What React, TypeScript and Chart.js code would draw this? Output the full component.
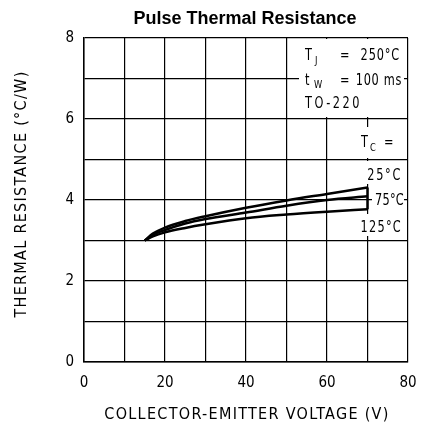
import React, { useEffect, useRef } from "react";
import { Chart, registerables } from "chart.js";

Chart.register(...registerables);

const voltage = [15, 17, 20, 25, 30, 40, 50, 60, 70];
const r25 = [3.0, 3.17, 3.32, 3.48, 3.6, 3.81, 3.99, 4.15, 4.31];
const r75 = [3.0, 3.14, 3.26, 3.42, 3.53, 3.69, 3.86, 4.0, 4.09];
const r125 = [3.0, 3.1, 3.2, 3.31, 3.4, 3.55, 3.64, 3.71, 3.77];
const xTicks = [0, 20, 40, 60, 80];
const yTicks = [0, 2, 4, 6, 8];

const FONT = '"Liberation Sans Narrow", "DejaVu Sans Condensed", "DejaVu Sans", sans-serif';

function txt(ctx: any, s: string, x: number, y: number, size: number, align: string, ls = 1, sx = 0.84) {
  ctx.save();
  ctx.font = `${size}px ${FONT}`;
  ctx.textAlign = align;
  ctx.textBaseline = "alphabetic";
  ctx.letterSpacing = `${ls}px`;
  ctx.translate(x, y);
  ctx.scale(sx, 1);
  ctx.fillText(s, 0, 0);
  ctx.restore();
}

const annotationPlugin = {
  id: "annot",
  beforeDatasetsDraw(chart: any) {
    const ctx = chart.ctx;
    ctx.save();
    ctx.fillStyle = "#fff";
    ctx.fillRect(299, 39, 105, 78);
    ctx.fillRect(357, 127, 46, 31);
    ctx.fillRect(362, 161, 41, 23);
    ctx.fillRect(372, 190, 32, 18);
    ctx.fillRect(360, 214, 43, 22);
    ctx.fillStyle = "#000";
    txt(ctx, "T", 305, 60, 15, "left", 0);
    txt(ctx, "J", 315, 64, 11, "left", 0);
    txt(ctx, "=", 340, 60, 15, "left", 0);
    txt(ctx, "250°C", 400, 60, 15, "right", 1);
    txt(ctx, "t", 305, 85, 15, "left", 0);
    txt(ctx, "W", 314, 88, 11, "left", 0);
    txt(ctx, "=", 340, 85, 15, "left", 0);
    txt(ctx, "100 ms", 402, 85, 15, "right", 0.8);
    txt(ctx, "TO-220", 305, 108, 15, "left", 3);
    txt(ctx, "T", 361, 147, 15, "left", 0);
    txt(ctx, "C", 370, 151, 11, "left", 0);
    txt(ctx, "=", 384, 147, 15, "left", 0);
    txt(ctx, "25°C", 402, 180, 15, "right", 2);
    txt(ctx, "75°C", 375, 205, 15, "left", 0.3);
    txt(ctx, "125°C", 402, 232, 15, "right", 1.5);
    ctx.restore();
  },
  afterDraw(chart: any) {
    const ctx = chart.ctx;
    ctx.save();
    ctx.fillStyle = "#000";
    ctx.textAlign = "center";
    ctx.textBaseline = "middle";
    ctx.font = `bold 18px "Liberation Sans", Arial, sans-serif`;
    ctx.fillText("Pulse Thermal Resistance", 245, 19);
    ctx.font = `16px ${FONT}`;
    (ctx as any).letterSpacing = "1.3px";
    ctx.fillText("COLLECTOR-EMITTER VOLTAGE (V)", 247, 415);
    ctx.translate(22, 194);
    ctx.rotate(-Math.PI / 2);
    ctx.fillText("THERMAL RESISTANCE (°C/W)", 0, 0);
    ctx.restore();
  },
};

export default function App() {
  const ref = useRef<HTMLCanvasElement>(null);
  useEffect(() => {
    const pts = (ys: number[]) => voltage.map((x, i) => ({ x, y: ys[i] }));
    const line = (ys: number[]) => ({
      data: pts(ys),
      showLine: true,
      borderColor: "#000",
      borderWidth: 2.5,
      pointRadius: 0,
      cubicInterpolationMode: "monotone" as const,
      fill: false,
    });
    const chart = new Chart(ref.current!, {
      type: "scatter",
      data: {
        datasets: [
          line(r25),
          line(r75),
          line(r125),
          {
            data: [
              { x: voltage[voltage.length - 1], y: r125[r125.length - 1] },
              { x: voltage[voltage.length - 1], y: r25[r25.length - 1] },
            ],
            showLine: true,
            borderColor: "#000",
            borderWidth: 2.5,
            pointRadius: 0,
          },
        ],
      },
      options: {
        animation: false,
        responsive: false,
        layout: { padding: { left: 0, top: 38, right: 14, bottom: 0 } },
        plugins: { legend: { display: false }, tooltip: { enabled: false }, title: { display: false } },
        scales: {
          x: {
            type: "linear",
            min: 0,
            max: 80,
            afterFit: (s: any) => {
              s.height = 67;
              s.paddingLeft = 0;
              s.paddingRight = 0;
            },
            afterBuildTicks: (s: any) => {
              s.ticks = [0, 10, 20, 30, 40, 50, 60, 70, 80].map((v) => ({ value: v }));
            },
            ticks: {
              color: "#000",
              font: { family: FONT, size: 15 },
              padding: 12,
              maxRotation: 0,
              autoSkip: false,
              callback: (v: any) => (xTicks.includes(Number(v)) ? String(v) : ""),
            },
            grid: { color: "#000", lineWidth: 1.2, drawTicks: false },
            border: { color: "#000", width: 1.5 },
          },
          y: {
            min: 0,
            max: 8,
            afterFit: (s: any) => {
              s.width = 84;
              s.paddingTop = 0;
              s.paddingBottom = 0;
            },
            afterBuildTicks: (s: any) => {
              s.ticks = [0, 1, 2, 3, 4, 5, 6, 7, 8].map((v) => ({ value: v }));
            },
            ticks: {
              color: "#000",
              font: { family: FONT, size: 15 },
              padding: 10,
              autoSkip: false,
              callback: (v: any) => (yTicks.includes(Number(v)) ? String(v) : ""),
            },
            grid: { color: "#000", lineWidth: 1.2, drawTicks: false },
            border: { color: "#000", width: 1.5 },
          },
        },
      },
      plugins: [annotationPlugin],
    });
    return () => chart.destroy();
  }, []);
  return (
    <div style={{ position: "fixed", left: 0, top: 0, width: 422, height: 429, background: "#fff" }}>
      <canvas ref={ref} width={422} height={429} style={{ width: 422, height: 429 }} />
    </div>
  );
}
